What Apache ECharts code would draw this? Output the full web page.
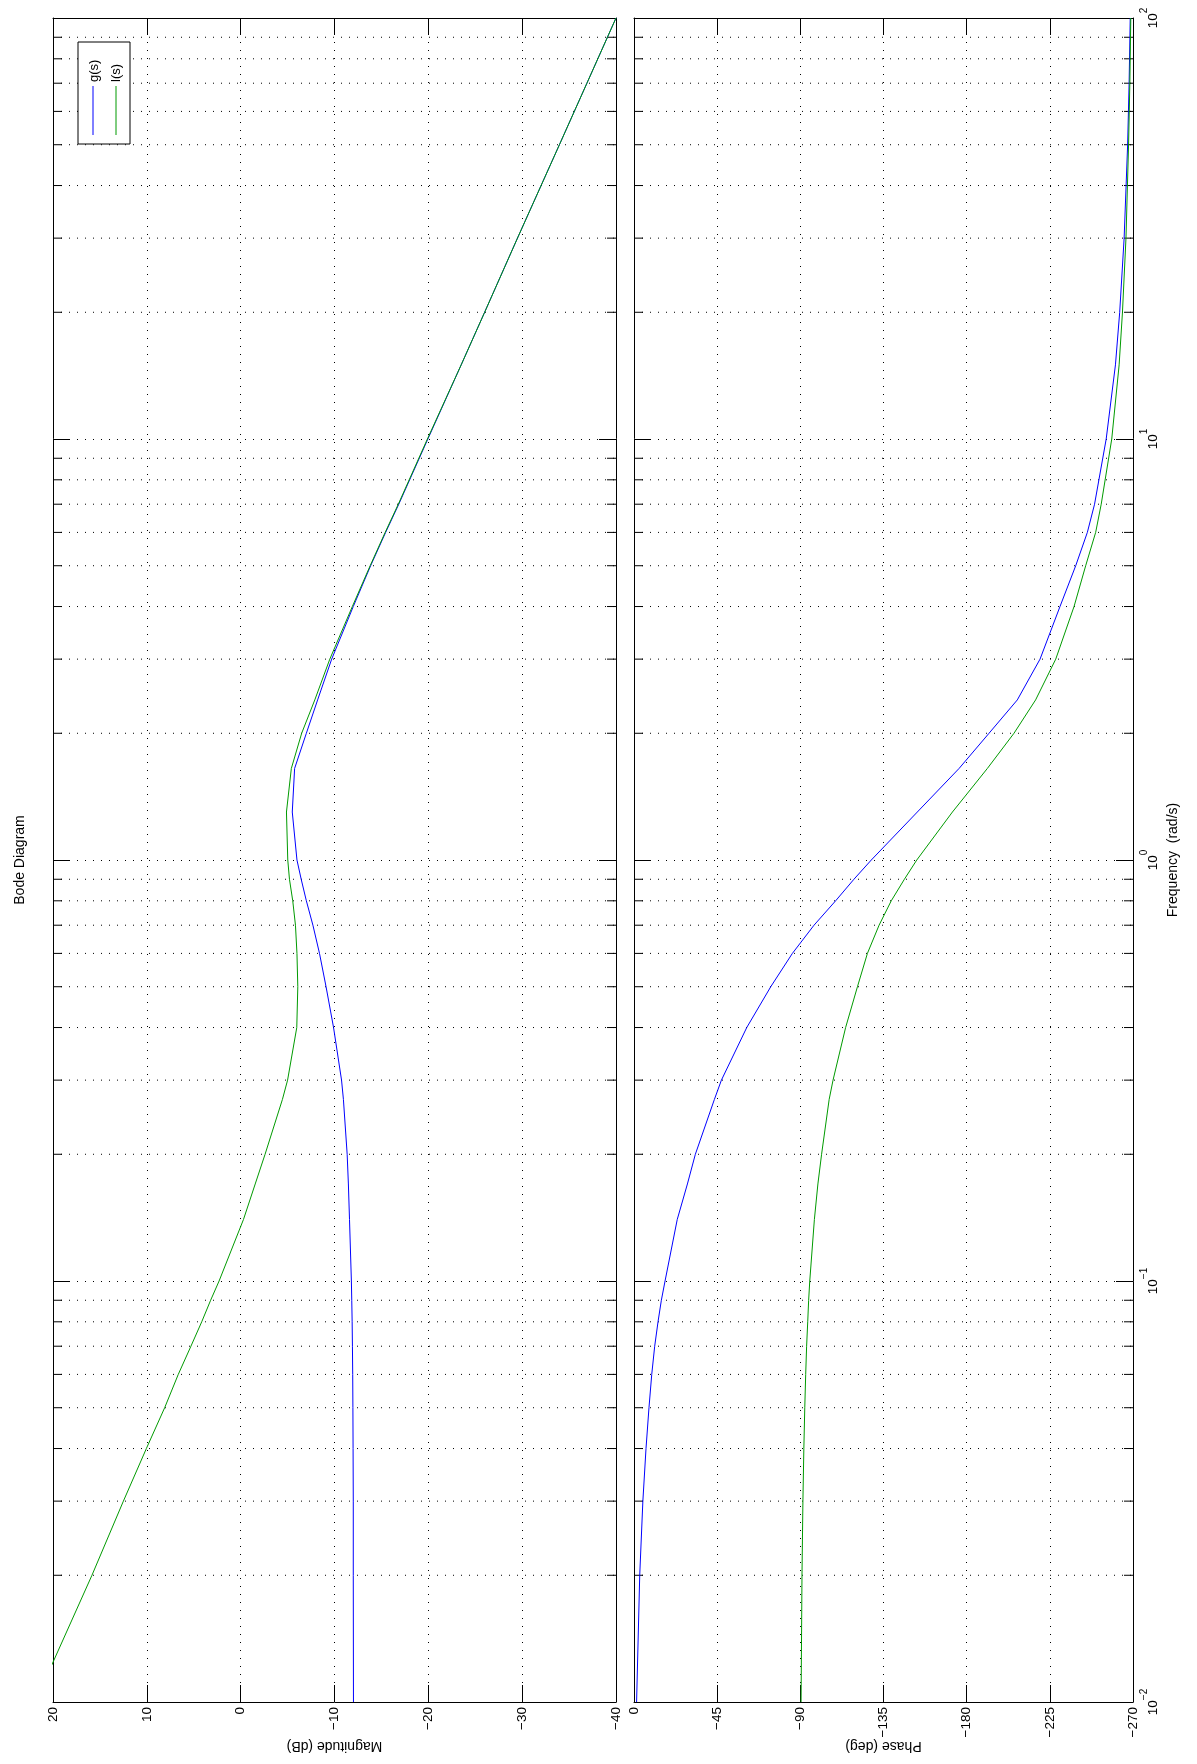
<!DOCTYPE html>
<html>
<head>
<meta charset="utf-8">
<script src="https://cdn.jsdelivr.net/npm/echarts@6/dist/echarts.min.js"></script>
<style>
html,body{margin:0;padding:0;background:#fff;}
#chart{width:1197px;height:1764px;}
</style>
</head>
<body>
<div id="chart"></div>
<script>
// ---- data ----
const freq   = [0.01, 0.02, 0.03, 0.04, 0.05, 0.06, 0.07, 0.08, 0.09, 0.1, 0.14, 0.17, 0.2, 0.27, 0.3, 0.4, 0.5, 0.6, 0.7, 0.8, 0.9, 1, 1.3, 1.65, 2, 2.4, 3, 4, 5, 6, 7, 10, 15, 20, 30, 50, 70, 100];
const gMag   = [-12.02, -12.0, -12.0, -11.98, -11.96, -11.94, -11.91, -11.88, -11.84, -11.8, -11.6, -11.48, -11.35, -10.95, -10.75, -9.9, -9.1, -8.4, -7.7, -7.0, -6.45, -6.0, -5.5, -5.75, -7.0, -8.2, -9.7, -12.0, -13.85, -15.45, -16.85, -19.95, -23.5, -26.0, -29.5, -33.97, -36.9, -40.0];
const lMag   = [21.9, 15.85, 12.5, 10.05, 8.1, 6.65, 5.3, 4.15, 3.2, 2.3, -0.3, -1.55, -2.6, -4.45, -5.0, -5.98, -6.09, -6.0, -5.84, -5.55, -5.2, -5.02, -4.88, -5.4, -6.5, -7.9, -9.5, -11.9, -13.8, -15.4, -16.8, -19.9, -23.5, -26.0, -29.5, -33.97, -36.9, -40.0];
const gPhase = [-1.4, -3.1, -4.8, -6.5, -8.1, -9.6, -11.2, -13.0, -14.8, -16.8, -23.4, -28.9, -33.2, -43.5, -47.3, -61.0, -74.0, -85.7, -97.4, -109.1, -119.0, -128.4, -153.3, -175.9, -192.1, -207.4, -219.7, -230.5, -239.0, -245.3, -249.2, -255.5, -260.5, -262.8, -265.2, -267.1, -267.9, -268.5];
const lPhase = [-90.4, -90.9, -91.4, -91.9, -92.4, -92.9, -93.4, -94.0, -94.5, -95.1, -97.6, -99.5, -101.5, -105.6, -107.7, -114.5, -120.9, -126.3, -132.6, -139.2, -146.3, -153.0, -172.3, -191.2, -205.6, -217.3, -228.2, -238.1, -244.4, -249.8, -252.8, -258.5, -262.5, -264.3, -266.2, -267.6, -268.3, -268.8];

const seriesNames = ['g(s)', 'l(s)'];
const magRange   = {min: -40, max: 20, interval: 10};
const phaseRange = {min: -270, max: 0, interval: 45};
const freqRange  = {min: 0.01, max: 100};
const minorFreqs = [0.02,0.03,0.04,0.05,0.06,0.07,0.08,0.09, 0.2,0.3,0.4,0.5,0.6,0.7,0.8,0.9, 2,3,4,5,6,7,8,9, 20,30,40,50,60,70,80,90];

const titleText = 'Bode Diagram';
const magName = 'Magnitude (dB)';
const phaseName = 'Phase (deg)';
const freqName = 'Frequency  (rad/s)';

// ---- styles ----
const FONT = '"Liberation Sans", Arial, Helvetica, sans-serif';
const COLORS = ['#0000ff', '#009a00'];
const dotted = {color: '#000', width: 1, type: [1, 7]};
const axisLineStyle = {color: '#000', width: 1};

function minus(v) { return String(v).replace('-', '\u2212'); }

function valueAxis(gridIndex, position, range, main, name) {
  return {
    type: 'value', gridIndex, position,
    min: range.min, max: range.max, interval: range.interval, inverse: true,
    axisLine: {show: true, onZero: false, lineStyle: axisLineStyle},
    axisTick: {show: true, inside: true, length: 17, lineStyle: axisLineStyle},
    axisLabel: {show: main, rotate: 90, margin: 5, fontSize: 13.5, color: '#000', fontFamily: FONT, formatter: minus},
    splitLine: {show: main, lineStyle: dotted},
    name: main ? name : '', nameLocation: 'middle', nameGap: 37, nameRotate: 180,
    nameMoveOverlap: false,
    nameTextStyle: {fontSize: 14, color: '#000', fontFamily: FONT}
  };
}

function logAxis(gridIndex, position, labelled) {
  return {
    type: 'log', logBase: 10, gridIndex, position,
    min: freqRange.min, max: freqRange.max,
    axisLine: {show: true, onZero: false, lineStyle: axisLineStyle},
    axisTick: {show: true, inside: true, length: 17, lineStyle: axisLineStyle},
    axisLabel: {
      show: labelled, rotate: 90, margin: 6, color: '#000', fontFamily: FONT,
      formatter: function (v) {
        const e = Math.round(Math.log10(v));
        return '{b|10}{e|' + minus(e) + '}';
      },
      rich: {
        b: {fontSize: 13.5, fontFamily: FONT, color: '#000'},
        e: {fontSize: 10, fontFamily: FONT, color: '#000', padding: [0, 0, 18, 0]}
      }
    },
    splitLine: {show: position === 'left', lineStyle: dotted},
    name: labelled ? freqName : '', nameLocation: 'middle', nameGap: 33, nameRotate: 90,
    nameMoveOverlap: false,
    nameTextStyle: {fontSize: 14, color: '#000', fontFamily: FONT}
  };
}

// minor frequency grid lines + minor ticks on both edges
function minorGridRender(params, api) {
  const cs = params.coordSys;
  const y = api.coord([api.value(0), api.value(1)])[1];
  const L = cs.x, R = cs.x + cs.width;
  return {
    type: 'group',
    children: [
      {type: 'line', shape: {x1: L, y1: y, x2: R, y2: y}, style: {stroke: '#000', lineWidth: 1, lineDash: [1, 7]}},
      {type: 'line', shape: {x1: L, y1: y, x2: L + 9, y2: y}, style: {stroke: '#000', lineWidth: 1}},
      {type: 'line', shape: {x1: R - 9, y1: y, x2: R, y2: y}, style: {stroke: '#000', lineWidth: 1}}
    ]
  };
}

function pairs(xs) { return freq.map((f, i) => [xs[i], f]); }

const chart = echarts.init(document.getElementById('chart'), null, {renderer: 'canvas'});

const option = {
  animation: false,
  backgroundColor: '#fff',
  grid: [
    {left: 53, top: 18, width: 563, height: 1684, containLabel: false, outerBoundsMode: 'none'},
    {left: 634, top: 18, width: 499, height: 1684, containLabel: false, outerBoundsMode: 'none'}
  ],
  xAxis: [
    valueAxis(0, 'bottom', magRange, true, magName),
    valueAxis(0, 'top', magRange, false, ''),
    valueAxis(1, 'bottom', phaseRange, true, phaseName),
    valueAxis(1, 'top', phaseRange, false, '')
  ],
  yAxis: [
    logAxis(0, 'left', false),
    logAxis(0, 'right', false),
    logAxis(1, 'left', false),
    logAxis(1, 'right', true)
  ],
  series: [
    {type: 'custom', xAxisIndex: 0, yAxisIndex: 0, silent: true, z: 1,
     renderItem: minorGridRender, data: minorFreqs.map(f => [magRange.min, f])},
    {type: 'custom', xAxisIndex: 2, yAxisIndex: 2, silent: true, z: 1,
     renderItem: minorGridRender, data: minorFreqs.map(f => [phaseRange.min, f])},
    {name: seriesNames[0], type: 'line', xAxisIndex: 0, yAxisIndex: 0, data: pairs(gMag),
     symbol: 'none', lineStyle: {color: COLORS[0], width: 1}, itemStyle: {color: COLORS[0]}, z: 3, clip: true},
    {name: seriesNames[1], type: 'line', xAxisIndex: 0, yAxisIndex: 0, data: pairs(lMag),
     symbol: 'none', lineStyle: {color: COLORS[1], width: 1}, itemStyle: {color: COLORS[1]}, z: 4, clip: true},
    {name: seriesNames[0], type: 'line', xAxisIndex: 2, yAxisIndex: 2, data: pairs(gPhase),
     symbol: 'none', lineStyle: {color: COLORS[0], width: 1}, itemStyle: {color: COLORS[0]}, z: 3, clip: true},
    {name: seriesNames[1], type: 'line', xAxisIndex: 2, yAxisIndex: 2, data: pairs(lPhase),
     symbol: 'none', lineStyle: {color: COLORS[1], width: 1}, itemStyle: {color: COLORS[1]}, z: 4, clip: true}
  ],
  graphic: [
    {type: 'text', x: 20, y: 860, rotation: Math.PI / 2, z: 100,
     style: {text: titleText, font: '14px ' + FONT, fontSize: 14, fontFamily: FONT, fill: '#000',
             align: 'center', textAlign: 'center', verticalAlign: 'middle', textVerticalAlign: 'middle'}},
    {type: 'rect', z: 100, shape: {x: 78, y: 42, width: 52, height: 102},
     style: {fill: '#fff', stroke: '#000', lineWidth: 1}},
    {type: 'line', z: 101, shape: {x1: 93, y1: 135, x2: 93, y2: 86}, style: {stroke: COLORS[0], lineWidth: 1}},
    {type: 'line', z: 101, shape: {x1: 116, y1: 135, x2: 116, y2: 86}, style: {stroke: COLORS[1], lineWidth: 1}},
    {type: 'text', x: 94, y: 82, rotation: Math.PI / 2, z: 101,
     style: {text: seriesNames[0], font: '13px ' + FONT, fontSize: 13, fontFamily: FONT, fill: '#000',
             align: 'left', textAlign: 'left', verticalAlign: 'middle', textVerticalAlign: 'middle'}},
    {type: 'text', x: 116, y: 82, rotation: Math.PI / 2, z: 101,
     style: {text: seriesNames[1], font: '13px ' + FONT, fontSize: 13, fontFamily: FONT, fill: '#000',
             align: 'left', textAlign: 'left', verticalAlign: 'middle', textVerticalAlign: 'middle'}}
  ]
};
chart.setOption(option);
</script>
</body>
</html>
